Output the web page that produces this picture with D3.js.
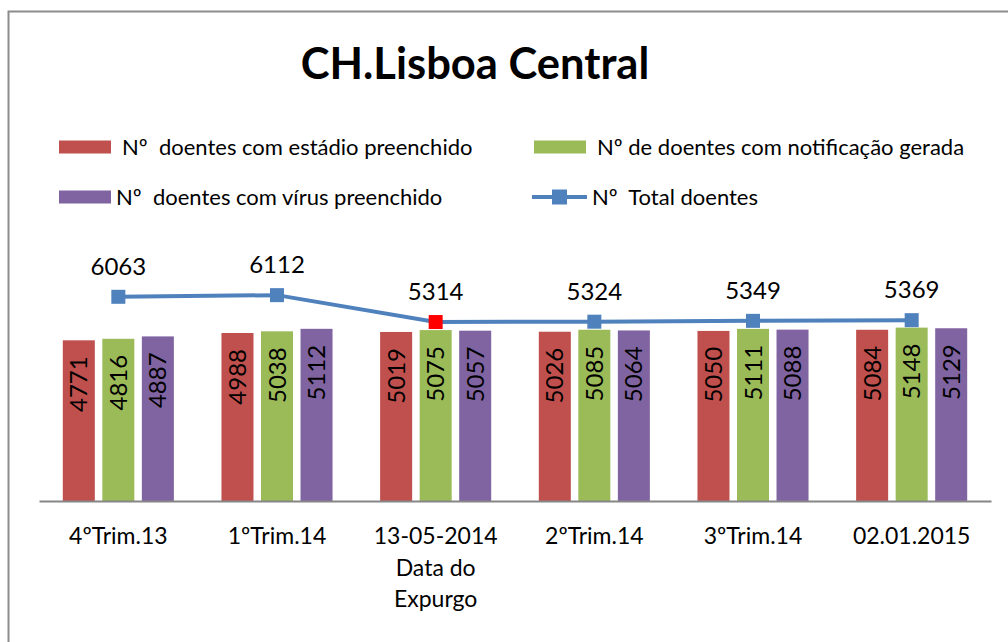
<!DOCTYPE html>
<html>
<head>
<meta charset="utf-8">
<script src="https://cdn.jsdelivr.net/npm/d3@7"></script>
<style>
  body { margin: 0; background: #fff; }
  svg { display: block; font-family: Lato, "Open Sans", sans-serif; }
  text { white-space: pre; }
</style>
</head>
<body>
<svg id="chart" width="1008" height="642"></svg>
<script>
// chart data
var categories = ['4ºTrim.13', '1ºTrim.14', '13-05-2014\nData do\nExpurgo', '2ºTrim.14', '3ºTrim.14', '02.01.2015'];
var estadio = [4771, 4988, 5019, 5026, 5050, 5084];
var notificacao = [4816, 5038, 5075, 5085, 5111, 5148];
var virus = [4887, 5112, 5057, 5064, 5088, 5129];
var total = [6063, 6112, 5314, 5324, 5349, 5369];
var seriesNames = ['Nº  doentes com estádio preenchido', 'Nº de doentes com notificação gerada',
                   'Nº  doentes com vírus preenchido', 'Nº  Total doentes'];
var title = 'CH.Lisboa Central';

var colors = ['#C0504D', '#9BBB59', '#8064A2', '#4F81BD'];
var highlightIdx = 2; // red marker on the "Data do Expurgo" point

var svg = d3.select('#chart');

// outer frame (runs off the right/bottom edge like the original)
svg.append('rect')
    .attr('x', 8.5).attr('y', 11.5)
    .attr('width', 1010).attr('height', 640)
    .attr('fill', 'none').attr('stroke', '#8c8c8c').attr('stroke-width', 2);

svg.append('text')
    .attr('x', 475).attr('y', 79)
    .attr('text-anchor', 'middle')
    .attr('font-size', 43.5).attr('font-weight', 'bold')
    .text(title);

var x0 = d3.scaleBand().domain(d3.range(categories.length)).range([39, 991]);
var bw = x0.bandwidth();
var x1 = d3.scaleBand().domain([0, 1, 2]).range([bw * 0.15, bw * 0.85]).paddingInner(0.19);
var y = d3.scaleLinear().domain([0, 7000]).range([501, 501 - 7000 * 0.03368]);

var barSeries = [estadio, notificacao, virus];
var rows = [];
barSeries.forEach(function(vals, s) {
    vals.forEach(function(v, i) { rows.push({ s: s, i: i, v: v }); });
});

var bars = svg.append('g').selectAll('g').data(rows).enter().append('g');
bars.append('rect')
    .attr('x', d => x0(d.i) + x1(d.s))
    .attr('y', d => y(d.v))
    .attr('width', x1.bandwidth())
    .attr('height', d => y(0) - y(d.v))
    .attr('fill', d => colors[d.s]);
bars.append('text')
    .attr('transform', function(d) {
        var cx = x0(d.i) + x1(d.s) + x1.bandwidth() / 2;
        return 'translate(' + [cx + 8.5, y(d.v) + 16].join(',') + ') rotate(-90)';
    })
    .attr('text-anchor', 'end')
    .attr('font-size', 24)
    .attr('fill', '#000')
    .text(d => d.v);

// x axis
var xAxis = d3.axisBottom(x0).tickSize(0).tickFormat('');
var axisG = svg.append('g').attr('transform', 'translate(0,' + y(0) + ')').call(xAxis);
axisG.select('.domain').attr('stroke', '#868686').attr('stroke-width', 2);

var catLabels = svg.append('g').selectAll('text').data(categories).enter().append('text')
    .attr('x', (d, i) => x0(i) + bw / 2)
    .attr('y', 544)
    .attr('text-anchor', 'middle')
    .attr('font-size', 23);
catLabels.each(function(d) {
    var t = d3.select(this);
    d.split('\n').forEach(function(line, k) {
        t.append('tspan')
            .attr('x', t.attr('x'))
            .attr('dy', k === 0 ? 0 : 31.5)
            .text(line);
    });
});

// total line
var line = d3.line()
    .x((d, i) => x0(i) + bw / 2)
    .y(d => y(d));
svg.append('path')
    .datum(total)
    .attr('d', line)
    .attr('fill', 'none')
    .attr('stroke', colors[3])
    .attr('stroke-width', 4);

svg.append('g').selectAll('rect').data(total).enter().append('rect')
    .attr('x', (d, i) => x0(i) + bw / 2 - 7)
    .attr('y', d => y(d) - 7)
    .attr('width', 14).attr('height', 14)
    .attr('fill', (d, i) => i === highlightIdx ? '#FF0000' : colors[3]);

svg.append('g').selectAll('text').data(total).enter().append('text')
    .attr('x', (d, i) => x0(i) + bw / 2)
    .attr('y', d => y(d) - 22)
    .attr('text-anchor', 'middle')
    .attr('font-size', 24)
    .text(d => d);

// legend
var legendPos = [[59, 147], [534, 147], [59, 197], [534, 197]];
var legend = svg.append('g').selectAll('g').data(seriesNames).enter().append('g')
    .attr('transform', (d, i) => 'translate(' + legendPos[i].join(',') + ')');
legend.each(function(d, i) {
    var g = d3.select(this);
    if (i < 3) {
        g.append('rect').attr('x', 0).attr('y', -6.5).attr('width', 52).attr('height', 13)
            .attr('fill', colors[i]);
        g.append('text').attr('x', i === 2 ? 57 : 63).attr('y', 8).attr('font-size', 22).text(d);
    } else {
        g.append('line').attr('x1', -2).attr('x2', 53).attr('y1', 0).attr('y2', 0)
            .attr('stroke', colors[3]).attr('stroke-width', 4);
        g.append('rect').attr('x', 18).attr('y', -7.5).attr('width', 15).attr('height', 15)
            .attr('fill', colors[3]);
        g.append('text').attr('x', 58).attr('y', 8).attr('font-size', 22).text(d);
    }
});
</script>
</body>
</html>
